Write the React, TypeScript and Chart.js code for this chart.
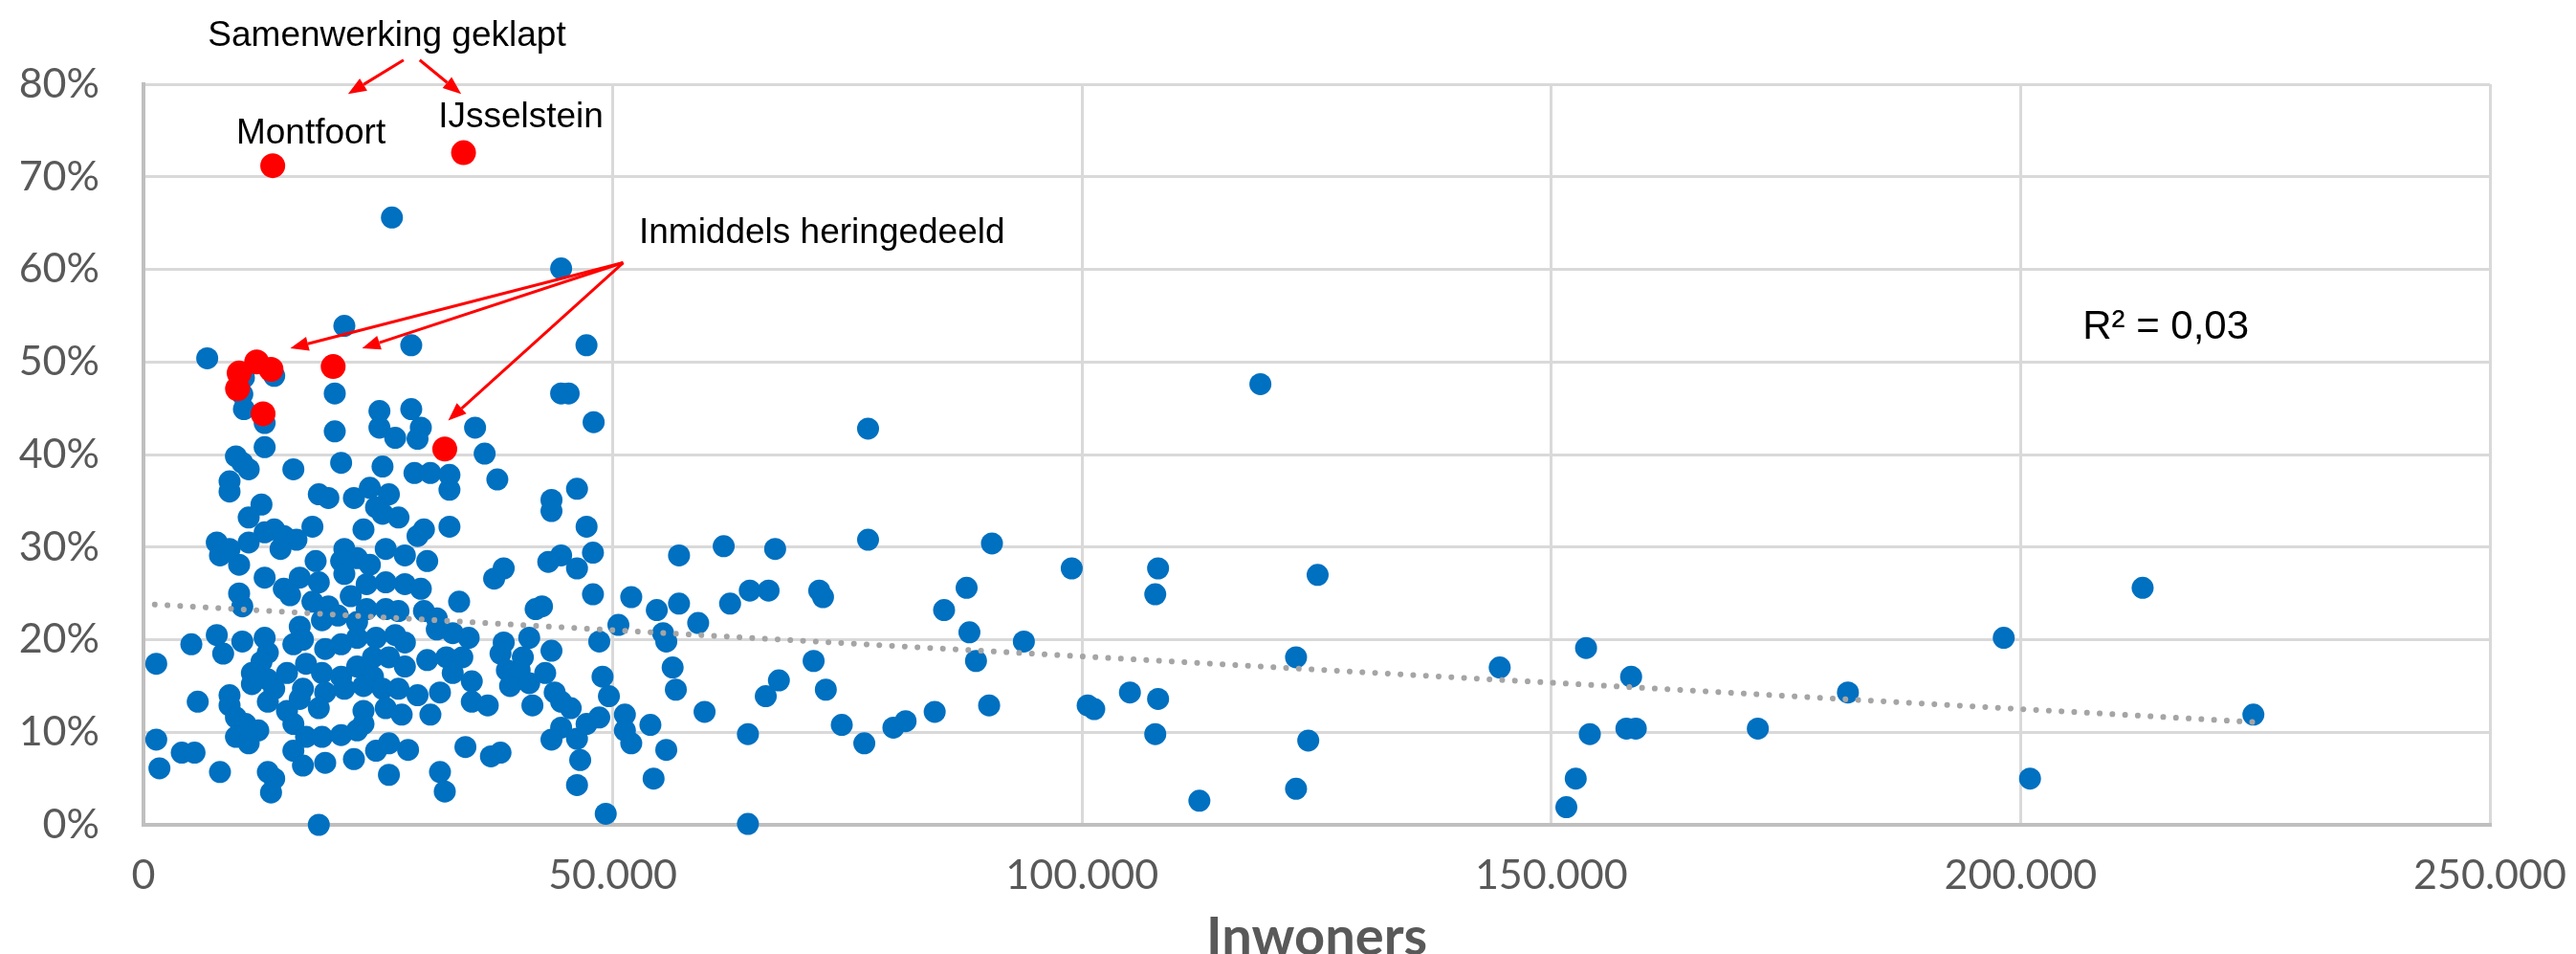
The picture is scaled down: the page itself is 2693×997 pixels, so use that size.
import { useEffect, useRef } from 'react';
import { Chart, registerables } from 'chart.js';

Chart.register(...registerables);

// Inwoners (x) and percentage (y) per municipality
const BLUE_POINTS: [number, number][] = [
  [26470, 65.6], [44500, 60.1],
  [6790, 50.4], [21400, 53.9], [28530, 51.8], [13930, 48.5], [10700, 48.3], [10530, 46.5],
  [10700, 44.9], [12910, 43.4], [20380, 46.6], [20380, 42.5], [25140, 44.7], [25140, 42.9],
  [28530, 44.9], [29550, 42.9], [29200, 41.7], [26820, 41.8], [12910, 40.8], [9850, 39.8],
  [10530, 39.1], [11210, 38.4], [15970, 38.4], [21060, 39.1], [25470, 38.7], [28870, 38.0],
  [30570, 38.0], [9170, 37.1], [9170, 36.0], [18680, 35.7], [19700, 35.3], [22420, 35.3],
  [24120, 36.4], [26150, 35.7], [24780, 34.3], [25470, 33.6], [27170, 33.2], [12570, 34.6],
  [11210, 33.2], [18000, 32.2], [23440, 31.9], [29200, 31.2], [29880, 31.9], [12910, 31.6],
  [13930, 31.9], [14950, 31.2], [16300, 30.8], [14600, 29.8], [11210, 30.5], [7810, 30.5],
  [8150, 29.1], [10190, 28.1], [9170, 29.8], [18340, 28.5], [21400, 29.8], [22760, 28.8],
  [21060, 28.5], [25810, 29.8], [27850, 29.1], [30230, 28.5], [24120, 28.1], [12910, 26.7],
  [16650, 26.7], [21400, 27.1],
  [14950, 25.5], [18680, 26.2], [15620, 24.8], [10190, 25.0], [10530, 23.6], [18000, 24.1],
  [19700, 23.6], [22080, 24.7], [23780, 26.0], [25810, 26.2], [27850, 26.0], [29550, 25.5],
  [23780, 23.3], [25810, 23.3], [27170, 23.1], [29880, 23.1], [19020, 22.1], [20710, 22.6],
  [22760, 21.9], [31250, 22.3], [31250, 21.1], [16650, 21.4], [7810, 20.5], [5100, 19.5],
  [8490, 18.5], [10530, 19.8], [12910, 20.2], [15970, 19.5], [16990, 20.0], [13250, 18.6],
  [19360, 19.0], [21060, 19.5], [22760, 20.2], [24780, 20.2], [26820, 20.5], [27850, 19.7],
  [1360, 17.4], [30230, 17.8], [32270, 18.1], [12570, 17.6], [11550, 16.4], [13250, 15.7],
  [15290, 16.4], [17320, 17.4], [19020, 16.4], [21060, 16.0], [22760, 17.1], [24450, 18.1],
  [26150, 18.1], [27850, 17.1], [24450, 16.0], [11550, 15.2], [13930, 14.7], [16990, 14.7],
  [19360, 14.3], [21400, 14.7], [23440, 15.0], [25470, 14.7], [27170, 14.7], [29200, 14.0],
  [31590, 14.3], [9170, 14.0], [9170, 12.9], [5780, 13.3], [13250, 13.3], [16650, 13.6],
  [18680, 12.6], [15290, 12.3], [23440, 12.3], [25810, 12.6], [27510, 11.9], [30570, 11.9],
  [9850, 11.6], [10870, 10.9], [12230, 10.2], [9850, 9.5], [11210, 8.8], [15970, 10.9],
  [17320, 9.5], [19020, 9.5], [21060, 9.7], [22760, 10.2], [23440, 10.9], [1360, 9.2],
  [4080, 7.8], [5440, 7.8], [1700, 6.1], [8150, 5.7], [15970, 8.0], [16990, 6.4],
  [19360, 6.7], [22420, 7.1], [24780, 8.0], [26150, 8.8], [28190, 8.1], [26150, 5.4],
  [13250, 5.7], [13930, 5.0], [13590, 3.5], [18680, 0.0], [31590, 5.7], [32100, 3.6],
  [47200, 51.8], [44500, 46.6], [45300, 46.6], [47960, 43.5], [35330, 42.9], [36350, 40.1],
  [37700, 37.3], [32600, 37.8], [32600, 36.2], [32600, 32.2], [43470, 35.1], [43470, 33.9],
  [46190, 36.3], [47210, 32.2], [47890, 29.4], [44500, 29.1], [43130, 28.4], [46190, 27.7],
  [38380, 27.7], [37360, 26.6], [57060, 29.1], [61820, 30.1],
  [33630, 24.1], [41780, 23.3], [42460, 23.6], [47890, 24.9], [51970, 24.6], [54690, 23.2],
  [57060, 23.9], [59100, 21.8], [62500, 23.9], [50600, 21.6], [48560, 19.8], [55360, 20.7],
  [55700, 19.8], [56380, 17.0], [56720, 14.6], [59780, 12.2], [32950, 20.7], [34650, 20.2],
  [33970, 18.1], [38380, 19.7], [38040, 18.5], [41100, 20.2], [43470, 18.8], [40420, 18.1],
  [38720, 16.7], [40080, 16.7], [42800, 16.4], [32950, 16.4], [34980, 15.5], [39060, 15.0],
  [41100, 15.3], [43810, 14.3], [34980, 13.3], [36680, 12.9], [41440, 12.9], [44500, 13.3],
  [45520, 12.6], [48910, 16.0], [49590, 13.9], [48560, 11.6], [47210, 10.9], [44500, 10.5],
  [43470, 9.2], [46190, 9.3], [46530, 7.0], [46190, 4.3], [49250, 1.2], [51290, 11.9],
  [51290, 10.2], [51970, 8.8], [54010, 10.8], [55700, 8.1], [54350, 5.0], [34300, 8.4],
  [37020, 7.4], [38040, 7.8],
  [119000, 47.6], [77200, 42.8], [77200, 30.8], [67300, 29.8], [90400, 30.4], [98900, 27.7],
  [108100, 27.7], [107800, 24.9], [64600, 25.3], [66600, 25.3], [72000, 25.3], [72400, 24.6],
  [87700, 25.6], [85300, 23.2], [88000, 20.8], [93800, 19.8], [88700, 17.7], [71400, 17.7],
  [67700, 15.6], [66300, 13.9], [72700, 14.6], [74400, 10.8], [76800, 8.8], [79900, 10.5],
  [81200, 11.2], [84300, 12.2], [90100, 12.9], [100600, 12.9], [101300, 12.5], [105100, 14.3],
  [108100, 13.6], [107800, 9.8], [112500, 2.6], [64400, 9.8], [64400, 0.1],
  [125100, 27.0], [122800, 18.1], [124100, 9.1], [122800, 3.9], [144500, 17.0], [153700, 19.1],
  [158500, 16.0], [154100, 9.8], [158000, 10.4], [159000, 10.4], [152600, 5.0], [151600, 1.9],
  [172000, 10.4], [181600, 14.3], [198200, 20.2], [201000, 5.0], [213000, 25.6], [224800, 11.9],
];

const RED_POINTS: [number, number][] = [
  [10190, 48.8], [12060, 50.0], [13590, 49.2], [10020, 47.1], [12740, 44.4],
  [20210, 49.5], [32100, 40.6], [13770, 71.2], [34100, 72.6],
];

// Trend line end points
const TREND_POINTS: [number, number][] = [[1200, 23.8], [224800, 11.1]];

const X_MAX = 250000;
const X_STEP = 50000;
const Y_MAX = 80;
const Y_STEP = 10;
const X_TITLE = 'Inwoners';

const ANNOTATION_TEXTS = [
  { text: 'Samenwerking geklapt', x: 25940, y: 84.13, align: 'center' },
  { text: 'Montfoort', x: 17840, y: 73.64, align: 'center' },
  { text: 'IJsselstein', x: 40210, y: 75.35, align: 'center' },
  { text: 'Inmiddels heringedeeld', x: 52790, y: 62.84, align: 'left' },
];
const R2_TEXT = { text: 'R² = 0,03', x: 206600, y: 52.51 };

const ARROWS: { from: [number, number]; to: [number, number] }[] = [
  { from: [27710, 82.61], to: [21790, 78.94] },
  { from: [29430, 82.61], to: [33850, 78.94] },
  { from: [51110, 60.72], to: [15640, 51.47] },
  { from: [51110, 60.72], to: [23290, 51.47] },
  { from: [51110, 60.72], to: [32460, 43.67] },
];

const fmtThousands = (v: number) =>
  String(Math.round(v)).replace(/\B(?=(\d{3})+(?!\d))/g, '.');

const annotationPlugin = {
  id: 'annotationsCustom',
  afterDatasetsDraw(chart: any) {
    const { ctx, scales } = chart;
    const xs = scales.x;
    const ys = scales.y;
    const px = (v: number) => xs.getPixelForValue(v);
    const py = (v: number) => ys.getPixelForValue(v);
    ctx.save();
    ctx.fillStyle = '#000000';
    ctx.textBaseline = 'alphabetic';
    ctx.font = '37px "Liberation Sans", Arial, sans-serif';
    for (const t of ANNOTATION_TEXTS) {
      ctx.textAlign = t.align as CanvasTextAlign;
      ctx.fillText(t.text, px(t.x), py(t.y));
    }
    ctx.font = '42px "Liberation Sans", Arial, sans-serif';
    ctx.textAlign = 'left';
    ctx.fillText(R2_TEXT.text, px(R2_TEXT.x), py(R2_TEXT.y));

    ctx.strokeStyle = '#FF0000';
    ctx.fillStyle = '#FF0000';
    ctx.lineWidth = 3;
    const headLen = 19;
    const headHalf = 7.5;
    for (const a of ARROWS) {
      const x1 = px(a.from[0]);
      const y1 = py(a.from[1]);
      const x2 = px(a.to[0]);
      const y2 = py(a.to[1]);
      const ang = Math.atan2(y2 - y1, x2 - x1);
      const bx = x2 - headLen * Math.cos(ang);
      const by = y2 - headLen * Math.sin(ang);
      ctx.beginPath();
      ctx.moveTo(x1, y1);
      ctx.lineTo(bx, by);
      ctx.stroke();
      ctx.beginPath();
      ctx.moveTo(x2, y2);
      ctx.lineTo(bx + headHalf * Math.sin(ang), by - headHalf * Math.cos(ang));
      ctx.lineTo(bx - headHalf * Math.sin(ang), by + headHalf * Math.cos(ang));
      ctx.closePath();
      ctx.fill();
    }
    ctx.restore();
  },
};

export default function App() {
  const canvasRef = useRef<HTMLCanvasElement | null>(null);

  useEffect(() => {
    let chart: Chart | null = null;
    let cancelled = false;
    const build = () => {
      if (cancelled || !canvasRef.current) return;
      const tickFont = { family: 'Lato, "Open Sans", sans-serif', size: 43 };
      chart = new Chart(canvasRef.current, {
        type: 'scatter',
        data: {
          datasets: [
            {
              label: 'Samenwerking / heringedeeld',
              data: RED_POINTS.map(([x, y]) => ({ x, y })),
              backgroundColor: '#FF0000',
              borderWidth: 0,
              pointRadius: 13,
              pointHoverRadius: 13,
              order: 0,
              clip: false,
            } as any,
            {
              label: 'Trend',
              data: TREND_POINTS.map(([x, y]) => ({ x, y })),
              showLine: true,
              borderColor: '#A5A5A5',
              borderWidth: 6,
              borderDash: [0.01, 13.3],
              borderCapStyle: 'round',
              pointRadius: 0,
              pointHoverRadius: 0,
              order: 1,
              clip: false,
            } as any,
            {
              label: 'Gemeenten',
              data: BLUE_POINTS.map(([x, y]) => ({ x, y })),
              backgroundColor: '#0070C0',
              borderWidth: 0,
              pointRadius: 11.5,
              pointHoverRadius: 11.5,
              order: 2,
              clip: false,
            } as any,
          ],
        },
        options: {
          responsive: true,
          maintainAspectRatio: false,
          animation: false,
          layout: { padding: { top: 88, right: 90, left: 0, bottom: 0 } },
          plugins: {
            legend: { display: false },
            tooltip: { enabled: false },
          },
          scales: {
            x: {
              type: 'linear',
              min: 0,
              max: X_MAX,
              ticks: {
                stepSize: X_STEP,
                callback: (v: any) => fmtThousands(Number(v)),
                font: tickFont,
                color: '#595959',
                padding: 27,
                maxRotation: 0,
                autoSkip: false,
              },
              grid: { color: '#D9D9D9', lineWidth: 3, drawTicks: false },
              border: { color: '#BFBFBF', width: 4 },
              title: {
                display: true,
                text: X_TITLE,
                color: '#595959',
                font: { family: 'Lato, "Open Sans", sans-serif', size: 56, weight: 'bold', lineHeight: 0.6 },
                padding: { top: 0, bottom: 0 },
              },
              afterFit: (s: any) => {
                s.height = 135;
                s.paddingLeft = 0;
                s.paddingRight = 0;
              },
            },
            y: {
              type: 'linear',
              min: 0,
              max: Y_MAX,
              ticks: {
                stepSize: Y_STEP,
                callback: (v: any) => `${v}%`,
                font: tickFont,
                color: '#595959',
                padding: 46,
              },
              grid: { color: '#D9D9D9', lineWidth: 3, drawTicks: false },
              border: { color: '#BFBFBF', width: 4 },
              afterFit: (s: any) => {
                s.width = 150;
              },
            },
          },
        } as any,
        plugins: [annotationPlugin],
      });
    };
    const fontsReady = (document as any).fonts
      ? Promise.all([
          (document as any).fonts.load('43px Lato'),
          (document as any).fonts.load('bold 56px Lato'),
          (document as any).fonts.load('37px "Liberation Sans"'),
        ]).catch(() => null)
      : Promise.resolve(null);
    fontsReady.then(build);
    return () => {
      cancelled = true;
      if (chart) chart.destroy();
    };
  }, []);

  return (
    <div
      style={{
        position: 'fixed',
        left: 0,
        top: 0,
        width: 2693,
        height: 997,
        background: '#ffffff',
      }}
    >
      <canvas ref={canvasRef} />
    </div>
  );
}
